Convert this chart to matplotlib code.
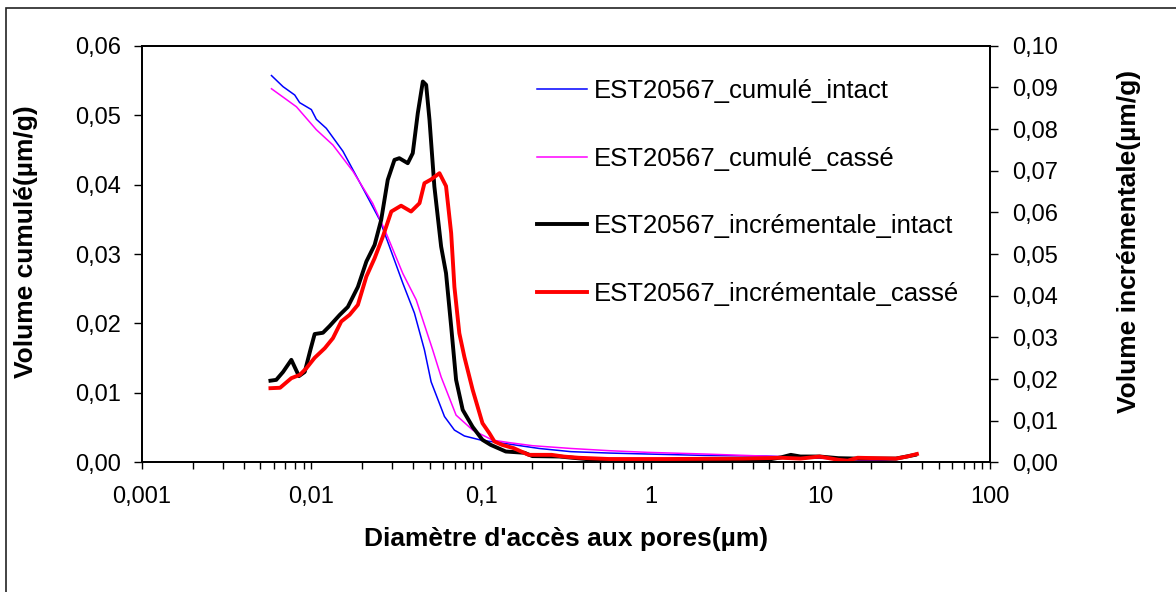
"""
Porosimétrie mercure - EST20567 intact / cassé
courbes cumulées (axe gauche) et incrémentales (axe droit)
"""

import matplotlib
matplotlib.use('Agg')
import matplotlib.pyplot as plt
from matplotlib.patches import Rectangle
from matplotlib.ticker import FixedLocator, LogLocator, NullFormatter

# ============================================================
# Données
# ============================================================

# cumulé intact (µm/g)
x_cum_intact = [0.00582, 0.00681, 0.00798, 0.00853, 0.0100, 0.0107, 0.01225, 0.01535,
                0.0201, 0.0253, 0.0309, 0.0346, 0.0405, 0.0464, 0.0508, 0.0609,
                0.0697, 0.0798, 0.100, 0.140, 0.220, 0.339, 0.569, 0.957, 2.08,
                4.79, 7.64, 16.6, 27.9, 36.2]
y_cum_intact = [0.0557, 0.0541, 0.0529, 0.0518, 0.0508, 0.0494, 0.0481, 0.0448,
                0.0395, 0.0349, 0.0291, 0.0258, 0.0215, 0.0162, 0.0116, 0.0066,
                0.00465, 0.0038, 0.0032, 0.0027, 0.0020, 0.00154, 0.00134, 0.0012, 0.0010,
                0.0009, 0.00072, 0.00043, 0.0001, 0.0]

# cumulé cassé
x_cum_casse = [0.00582, 0.00681, 0.00817, 0.0107, 0.0134, 0.0176, 0.0230, 0.0276,
               0.0346, 0.0415, 0.0519, 0.0582, 0.0713, 0.0893, 0.117, 0.148, 0.201,
               0.339, 0.569, 0.957, 2.08, 5.88, 12.8, 21.6, 36.2]
y_cum_casse = [0.0538, 0.0526, 0.0512, 0.0479, 0.0457, 0.0419, 0.0373, 0.0330,
               0.0272, 0.0234, 0.0162, 0.0123, 0.0068, 0.00465, 0.0032, 0.00283, 0.0024,
               0.0020, 0.00168, 0.00144, 0.0012, 0.00082, 0.00048, 0.0002, 0.0]

# incrémentale intact
x_inc_intact = [0.00574, 0.00621, 0.00681, 0.00762, 0.00845, 0.00914, 0.00987, 0.01046,
                0.0117, 0.0128, 0.0147, 0.0164, 0.0188, 0.0211, 0.0236, 0.0258,
                0.0282, 0.0309, 0.0330, 0.0370, 0.0396, 0.0424, 0.0454, 0.0475,
                0.0497, 0.0531, 0.0582, 0.0622, 0.0667, 0.0713, 0.0780, 0.0893,
                0.102, 0.114, 0.140, 0.180, 0.201, 0.29, 0.44, 0.738, 2.08,
                4.79, 5.88, 6.7, 7.64, 9.9, 12.8, 16.6, 21.6, 27.9, 36.2]
y_inc_intact = [0.0196, 0.0198, 0.0217, 0.0246, 0.0207, 0.0217, 0.0270, 0.0308,
                0.0311, 0.0327, 0.0354, 0.0373, 0.0421, 0.0482, 0.0522, 0.0582,
                0.0678, 0.0726, 0.0730, 0.0718, 0.0742, 0.0838, 0.0914, 0.0906,
                0.0822, 0.0662, 0.0518, 0.0454, 0.0326, 0.0198, 0.0126, 0.0085,
                0.0054, 0.0042, 0.0026, 0.0023, 0.0015, 0.0014, 0.0007, 0.00056, 0.0005,
                0.00056, 0.0012, 0.0018, 0.0014, 0.0014, 0.0010, 0.0009, 0.0009, 0.0009, 0.0018]

# incrémentale cassé
x_inc_casse = [0.00574, 0.00654, 0.00762, 0.00855, 0.00935, 0.01046, 0.0120, 0.0134,
               0.0150, 0.0168, 0.0188, 0.0211, 0.0236, 0.0264, 0.0296, 0.0338,
               0.0387, 0.0434, 0.0464, 0.0508, 0.0569, 0.0622, 0.0667, 0.0697,
               0.0745, 0.0798, 0.0893, 0.102, 0.112, 0.120, 0.133, 0.156, 0.191,
               0.261, 0.305, 0.376, 0.569, 1.23, 3.48, 5.88, 7.64, 9.9, 12.8,
               14.5, 16.6, 21.6, 27.9, 32.5, 37.1]
y_inc_casse = [0.0178, 0.0179, 0.0202, 0.0210, 0.0226, 0.0251, 0.0274, 0.0298,
               0.0338, 0.0354, 0.0378, 0.0446, 0.0490, 0.0542, 0.0602, 0.0616,
               0.0602, 0.0622, 0.0670, 0.0679, 0.0694, 0.0663, 0.0550, 0.0421,
               0.0310, 0.0253, 0.0174, 0.0094, 0.0070, 0.0050, 0.0042, 0.0034, 0.0018,
               0.0018, 0.0014, 0.0011, 0.0008, 0.0008, 0.0009, 0.0011, 0.0009, 0.0014, 0.0006,
               0.0004, 0.0011, 0.0010, 0.0009, 0.0014, 0.0020]

labels = ['EST20567_cumulé_intact', 'EST20567_cumulé_cassé',
          'EST20567_incrémentale_intact', 'EST20567_incrémentale_cassé']

x_ticks = [0.001, 0.01, 0.1, 1, 10, 100]
x_tick_labels = ['0,001', '0,01', '0,1', '1', '10', '100']
y_left_ticks = [0.00, 0.01, 0.02, 0.03, 0.04, 0.05, 0.06]
y_right_ticks = [0.00, 0.01, 0.02, 0.03, 0.04, 0.05, 0.06, 0.07, 0.08, 0.09, 0.10]


def virgule(v):
    return f'{v:.2f}'.replace('.', ',')


def setup_plot_style():
    plt.rcParams.update({
        'font.family': ['Liberation Sans', 'DejaVu Sans'],
        'font.size': 17,
        'axes.linewidth': 1.3,
        'xtick.direction': 'out',
        'ytick.direction': 'out',
        'figure.facecolor': 'white',
        'axes.facecolor': 'white',
    })


def main():
    setup_plot_style()

    fig = plt.figure(figsize=(11.76, 5.92), dpi=100)
    ax = fig.add_axes([0.1205, 0.219, 0.7213, 0.7038])
    ax2 = ax.twinx()

    # courbes cumulées - axe gauche
    l1, = ax.plot(x_cum_intact, y_cum_intact, color='#0000FF', lw=1.1)
    l2, = ax.plot(x_cum_casse, y_cum_casse, color='#FF00FF', lw=1.1)
    # courbes incrémentales - axe droit
    l3, = ax2.plot(x_inc_intact, y_inc_intact, color='black', lw=2.8)
    l4, = ax2.plot(x_inc_casse, y_inc_casse, color='#FF0000', lw=2.8)

    ax.set_xscale('log')
    ax.set_xlim(0.001, 100)
    ax.set_ylim(0, 0.06)
    ax2.set_ylim(0, 0.10)

    ax.xaxis.set_major_locator(FixedLocator(x_ticks))
    ax.set_xticklabels(x_tick_labels)
    ax.xaxis.set_minor_locator(LogLocator(base=10, subs=range(2, 10)))
    ax.xaxis.set_minor_formatter(NullFormatter())
    ax.tick_params(axis='x', which='both', length=5, width=1.0, pad=12)

    ax.set_yticks(y_left_ticks)
    ax.set_yticklabels([virgule(v) for v in y_left_ticks])
    ax.tick_params(axis='y', length=6, width=1.0, pad=9)
    ax2.set_yticks(y_right_ticks)
    ax2.set_yticklabels([virgule(v) for v in y_right_ticks])
    ax2.tick_params(axis='y', length=6, width=1.0, pad=10)

    for a in (ax, ax2):
        for sp in a.spines.values():
            sp.set_color('black')
            sp.set_linewidth(1.3)

    ax.set_xlabel("Diamètre d'accès aux pores(µm)", fontsize=19, fontweight='bold')
    ax.xaxis.set_label_coords(0.5, -0.155)
    ax.set_ylabel('Volume cumulé(µm/g)', fontsize=19, fontweight='bold')
    ax.yaxis.set_label_coords(-0.122, 0.53)
    ax2.set_ylabel('Volume incrémentale(µm/g)', fontsize=19, fontweight='bold')
    ax2.yaxis.set_label_coords(1.150, 0.53)

    ax2.legend([l1, l2, l3, l4], labels, loc='upper left',
               bbox_to_anchor=(537 / 1176, 1 - 79 / 592),
               bbox_transform=fig.transFigure, frameon=False, fontsize=18.5,
               handlelength=1.95, handletextpad=0.25, labelspacing=1.7,
               borderpad=0, borderaxespad=0)

    # cadre extérieur (ouvert à droite et en bas)
    fig.patches.append(Rectangle((6 / 1176, -0.05), 1.2, 1 - 8 / 592 + 0.05,
                                 transform=fig.transFigure, fill=False,
                                 edgecolor='#222222', lw=1.2))

    fig.savefig('out.png', dpi=100, facecolor='white')


if __name__ == '__main__':
    main()
